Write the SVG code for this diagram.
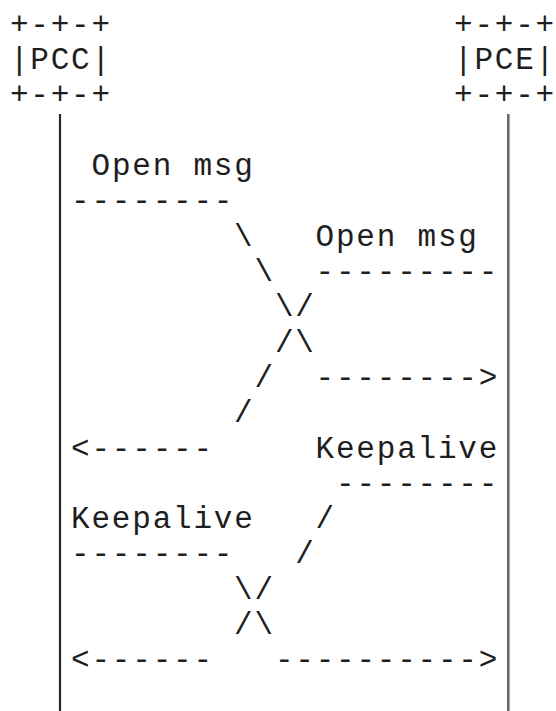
<svg xmlns="http://www.w3.org/2000/svg" width="556" height="711" viewBox="0 0 556 711">
  <style>
    /* monospace grid: 20.38px columns, 35.31px rows */
    text { font-family: "Liberation Mono", "DejaVu Sans Mono", monospace; font-size: 31px; letter-spacing: 1.78px; fill: #1e1e1e; }
    .life { stroke: #2a2a2a; stroke-width: 2.2; }
    .life.r { stroke: #6a6a6a; stroke-width: 2.6; }
  </style>
  <rect width="556" height="711" fill="#ffffff"/>

  <!-- PCC box -->
  <g id="pcc">
    <text x="9.9" y="33.75">+-+-+</text>
    <text x="9.9" y="69.06">|PCC|</text>
    <text x="9.9" y="104.37">+-+-+</text>
  </g>

  <!-- PCE box -->
  <g id="pce">
    <text x="454" y="33.75">+-+-+</text>
    <text x="454" y="69.06">|PCE|</text>
    <text x="454" y="104.37">+-+-+</text>
  </g>

  <!-- lifelines and message flows -->
  <g id="connectors">
    <line class="life" x1="60" y1="114" x2="60" y2="711"/>
    <line class="life r" x1="508.3" y1="114" x2="508.3" y2="711"/>

    <!-- Open msg, PCC -> PCE -->
    <text x="71.1" y="210.3">--------</text>
    <text x="234.1" y="245.6">\</text>
    <text x="254.5" y="280.9">\</text>
    <text x="274.9" y="316.2">\</text>
    <text x="295.3" y="351.5">\</text>
    <text x="315.6" y="386.9">--------&gt;</text>

    <!-- Open msg, PCE -> PCC -->
    <text x="315.6" y="280.9">---------</text>
    <text x="295.3" y="316.2">/</text>
    <text x="274.9" y="351.5">/</text>
    <text x="254.5" y="386.9">/</text>
    <text x="234.1" y="422.2">/</text>
    <text x="71.1" y="457.5">&lt;------</text>

    <!-- Keepalive, PCE -> PCC -->
    <text x="336" y="492.8">--------</text>
    <text x="315.6" y="528.1">/</text>
    <text x="295.3" y="563.4">/</text>
    <text x="254.5" y="598.7">/</text>
    <text x="234.1" y="634.0">/</text>
    <text x="71.1" y="669.3">&lt;------</text>

    <!-- Keepalive, PCC -> PCE -->
    <text x="71.1" y="563.4">--------</text>
    <text x="234.1" y="598.7">\</text>
    <text x="254.5" y="634.0">\</text>
    <text x="274.9" y="669.3">----------&gt;</text>
  </g>

  <!-- message labels -->
  <g id="labels">
    <text x="91.5" y="175.0">Open msg</text>
    <text x="315.6" y="245.6">Open msg</text>
    <text x="315.6" y="457.5">Keepalive</text>
    <text x="71.1" y="528.1">Keepalive</text>
  </g>
</svg>
